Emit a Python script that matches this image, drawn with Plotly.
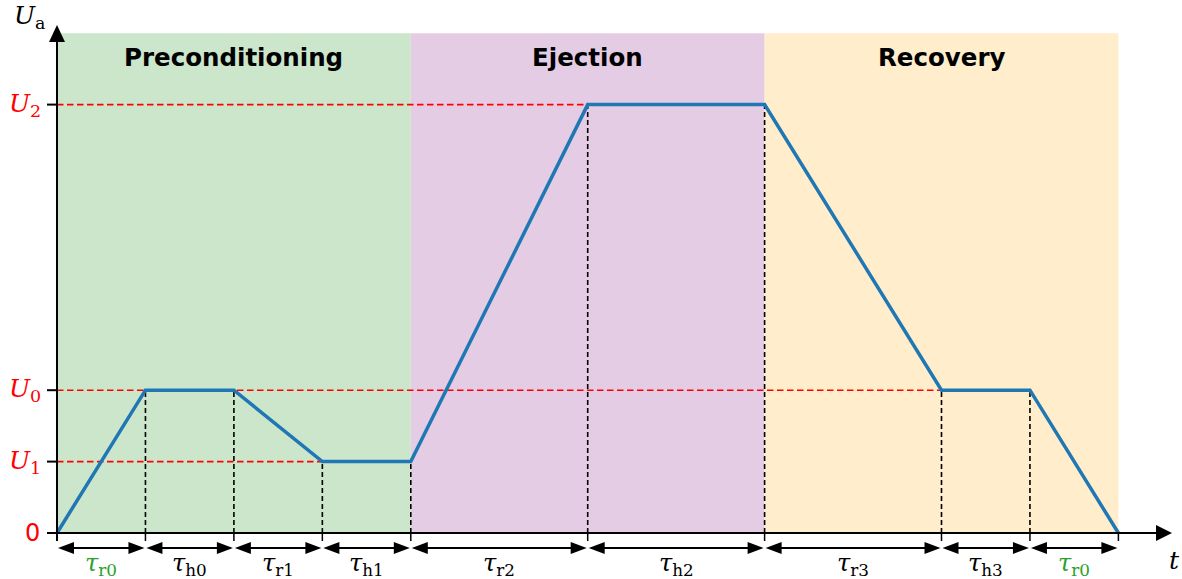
import plotly.graph_objects as go

# Piecewise-linear voltage programme U_a(t)
U1, U0, U2 = 1.0, 2.0, 6.0
t_knots = [0, 1, 2, 3, 4, 6, 8, 10, 11, 12]
u_knots = [0, U0, U0, U1, U1, U2, U2, U0, U0, 0]

# Reference levels shown on the vertical axis
level_names = ["<i>U</i><sub>0</sub>", "<i>U</i><sub>1</sub>", "<i>U</i><sub>2</sub>"]
level_values = [U0, U1, U2]

# Phases shaded in the background
phase_names = ["Preconditioning", "Ejection", "Recovery"]
phase_bounds = [(0, 4), (4, 8), (8, 12)]
phase_colors = ["rgb(204,230,204)", "rgb(228,204,228)", "rgb(255,237,204)"]

# Interval labels under the time axis
interval_labels = ["r0", "h0", "r1", "h1", "r2", "h2", "r3", "h3", "r0"]
interval_colors = ["#2ca02c", "black", "black", "black", "black",
                   "black", "black", "black", "#2ca02c"]

W, H = 1182, 579
PX_X, PX_Y = 88.45, 71.4          # pixels per data unit
ORIGIN_X, ORIGIN_Y = 57, 533      # pixel position of (0, 0)
x_range = [-ORIGIN_X / PX_X, (W - ORIGIN_X) / PX_X]
y_range = [(ORIGIN_Y - H) / PX_Y, ORIGIN_Y / PX_Y]
y_top = 7.0
x_tip = (1172 - ORIGIN_X) / PX_X
y_tip = (ORIGIN_Y - 25) / PX_Y
arrow_y = -15 / PX_Y
label_y = -31 / PX_Y

fig = go.Figure()
shapes = []
annotations = []

for (a, b), col, name in zip(phase_bounds, phase_colors, phase_names):
    shapes.append(dict(type="rect", xref="x", yref="y", x0=a, x1=b, y0=0, y1=y_top,
                       fillcolor=col, line=dict(width=0), layer="below"))
    annotations.append(dict(x=(a + b) / 2, y=(ORIGIN_Y - 57) / PX_Y, xref="x", yref="y",
                            text=name, showarrow=False,
                            font=dict(family="DejaVu Sans", size=24.5, color="black",
                                      weight="bold")))

# Red dashed reference levels, running to the start of the last plateau at that level
for val in level_values:
    end = 0
    for i in range(len(t_knots) - 1):
        if u_knots[i] == val and u_knots[i + 1] == val:
            end = t_knots[i]
    fig.add_trace(go.Scatter(x=[0, end], y=[val, val], mode="lines",
                             line=dict(color="red", width=1.6, dash="6.5px,3.5px"),
                             hoverinfo="skip", showlegend=False))

# Black dashed drop lines at interior knots
for t, u in zip(t_knots[1:-1], u_knots[1:-1]):
    fig.add_trace(go.Scatter(x=[t, t], y=[0, u], mode="lines",
                             line=dict(color="black", width=1.6, dash="5px,3px"),
                             hoverinfo="skip", showlegend=False))

fig.add_trace(go.Scatter(x=t_knots, y=u_knots, mode="lines",
                         line=dict(color="#1f77b4", width=3.5),
                         hoverinfo="skip", showlegend=False))

# Axes with arrowheads
shapes.append(dict(type="line", xref="x", yref="y", x0=-10 / PX_X, x1=x_tip - 10 / PX_X,
                   y0=0, y1=0, line=dict(color="black", width=2), layer="above"))
shapes.append(dict(type="line", xref="x", yref="y", x0=0, x1=0,
                   y0=-8 / PX_Y, y1=y_tip - 10 / PX_Y,
                   line=dict(color="black", width=2), layer="above"))
shapes.append(dict(type="path", xref="x", yref="y", xsizemode="pixel", ysizemode="pixel",
                   xanchor=x_tip, yanchor=0, path="M 0,0 L -16,8 L -16,-8 Z",
                   fillcolor="black", line=dict(width=0), layer="above"))
shapes.append(dict(type="path", xref="x", yref="y", xsizemode="pixel", ysizemode="pixel",
                   xanchor=0, yanchor=y_tip, path="M 0,0 L -8,-17 L 8,-17 Z",
                   fillcolor="black", line=dict(width=0), layer="above"))

# Tick marks
for val in [0] + level_values:
    shapes.append(dict(type="line", xref="x", yref="y", x0=-10 / PX_X, x1=0,
                       y0=val, y1=val, line=dict(color="black", width=2), layer="above"))
for t in t_knots:
    shapes.append(dict(type="line", xref="x", yref="y", x0=t, x1=t,
                       y0=-8 / PX_Y, y1=0, line=dict(color="black", width=1.5), layer="above"))

# Tick labels on the vertical axis
annotations.append(dict(x=-15 / PX_X, y=0, xref="x", yref="y", text="0", showarrow=False,
                        xanchor="right", yanchor="middle",
                        font=dict(family="DejaVu Sans", size=24, color="red")))
for name, val in zip(level_names, level_values):
    annotations.append(dict(x=-14 / PX_X, y=val, xref="x", yref="y", text=name,
                            showarrow=False, xanchor="right", yanchor="middle",
                            font=dict(family="DejaVu Serif", size=25, color="red")))

# Duration arrows and labels
for i, (lab, col) in enumerate(zip(interval_labels, interval_colors)):
    a, b = t_knots[i], t_knots[i + 1]
    shapes.append(dict(type="line", xref="x", yref="y", x0=a + 8 / PX_X, x1=b - 8 / PX_X,
                       y0=arrow_y, y1=arrow_y, line=dict(color="black", width=2)))
    shapes.append(dict(type="path", xref="x", yref="y", xsizemode="pixel", ysizemode="pixel",
                       xanchor=a, yanchor=arrow_y, path="M 1,0 L 17,6 L 17,-6 Z",
                       fillcolor="black", line=dict(width=0)))
    shapes.append(dict(type="path", xref="x", yref="y", xsizemode="pixel", ysizemode="pixel",
                       xanchor=b, yanchor=arrow_y, path="M -1,0 L -17,6 L -17,-6 Z",
                       fillcolor="black", line=dict(width=0)))
    annotations.append(dict(x=(a + b) / 2, y=label_y, xref="x", yref="y",
                            text="<i>τ</i><sub>" + lab + "</sub>", showarrow=False,
                            yanchor="middle",
                            font=dict(family="DejaVu Serif", size=24, color=col)))

# Axis titles
annotations.append(dict(x=(30 - ORIGIN_X) / PX_X, y=(ORIGIN_Y - 17) / PX_Y, xref="x", yref="y",
                        text="<i>U</i><sub>a</sub>", showarrow=False,
                        font=dict(family="DejaVu Serif", size=25, color="black")))
annotations.append(dict(x=(1174 - ORIGIN_X) / PX_X, y=(ORIGIN_Y - 560) / PX_Y, xref="x", yref="y",
                        text="<i>t</i>", showarrow=False,
                        font=dict(family="DejaVu Serif", size=25, color="black")))

fig.update_layout(
    width=W, height=H,
    margin=dict(l=0, r=0, t=0, b=0),
    paper_bgcolor="white", plot_bgcolor="white",
    xaxis=dict(range=x_range, visible=False, fixedrange=True),
    yaxis=dict(range=y_range, visible=False, fixedrange=True),
    shapes=shapes, annotations=annotations,
    showlegend=False,
)

fig.write_html("out.html")
